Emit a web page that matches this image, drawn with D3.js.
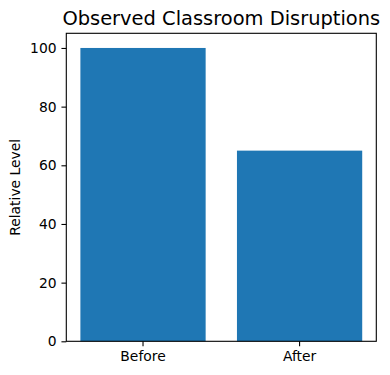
<!DOCTYPE html>
<html><head><meta charset="utf-8">
<script src="https://cdn.jsdelivr.net/npm/d3@7"></script>
<style>body{margin:0;background:#fff}svg{display:block}text{font-family:"DejaVu Sans",sans-serif}</style>
</head><body>
<svg id="c" width="390" height="375"></svg>
<script>
const categories = ["Before", "After"];
const values = [100, 65];
const yTicks = [0, 20, 40, 60, 80, 100];
const title = "Observed Classroom Disruptions";
const yLabel = "Relative Level";

const svg = d3.select("#c");
const L = 66.3, R = 376.3, T = 33.3, B = 341.3;
const x = d3.scaleBand().domain(categories).range([L, R]).paddingInner(0.2).paddingOuter(0.09);
const y = d3.scaleLinear().domain([0, 105]).range([B, T]);

svg.append("g").selectAll("rect").data(categories).join("rect")
  .attr("x", d => x(d)).attr("width", x.bandwidth())
  .attr("y", (d, i) => y(values[i])).attr("height", (d, i) => y(0) - y(values[i]))
  .attr("fill", "#1f77b4");

const ya = svg.append("g").attr("transform", `translate(${L},0)`)
  .call(d3.axisLeft(y).tickValues(yTicks).tickSize(4.86).tickPadding(4.86));
const xa = svg.append("g").attr("transform", `translate(0,${B})`)
  .call(d3.axisBottom(x).tickSize(4.86).tickPadding(4.86));
[ya, xa].forEach(a => {
  a.select(".domain").remove();
  a.selectAll("line").attr("stroke", "#000").attr("stroke-width", 1.1);
  a.selectAll("text").attr("font-size", 13.89).attr("fill", "#000").attr("font-family", "DejaVu Sans");
});
svg.append("rect").attr("x", L).attr("y", T).attr("width", R - L).attr("height", B - T)
  .attr("fill", "none").attr("stroke", "#000").attr("stroke-width", 1.1);

svg.append("text").attr("x", (L + R) / 2).attr("y", 25).attr("text-anchor", "middle")
  .attr("font-size", 19.44).attr("fill", "#000").text(title);
svg.append("text").attr("transform", `translate(20,${(T + B) / 2}) rotate(-90)`)
  .attr("text-anchor", "middle").attr("font-size", 13.89).attr("fill", "#000").text(yLabel);
</script>
</body></html>
